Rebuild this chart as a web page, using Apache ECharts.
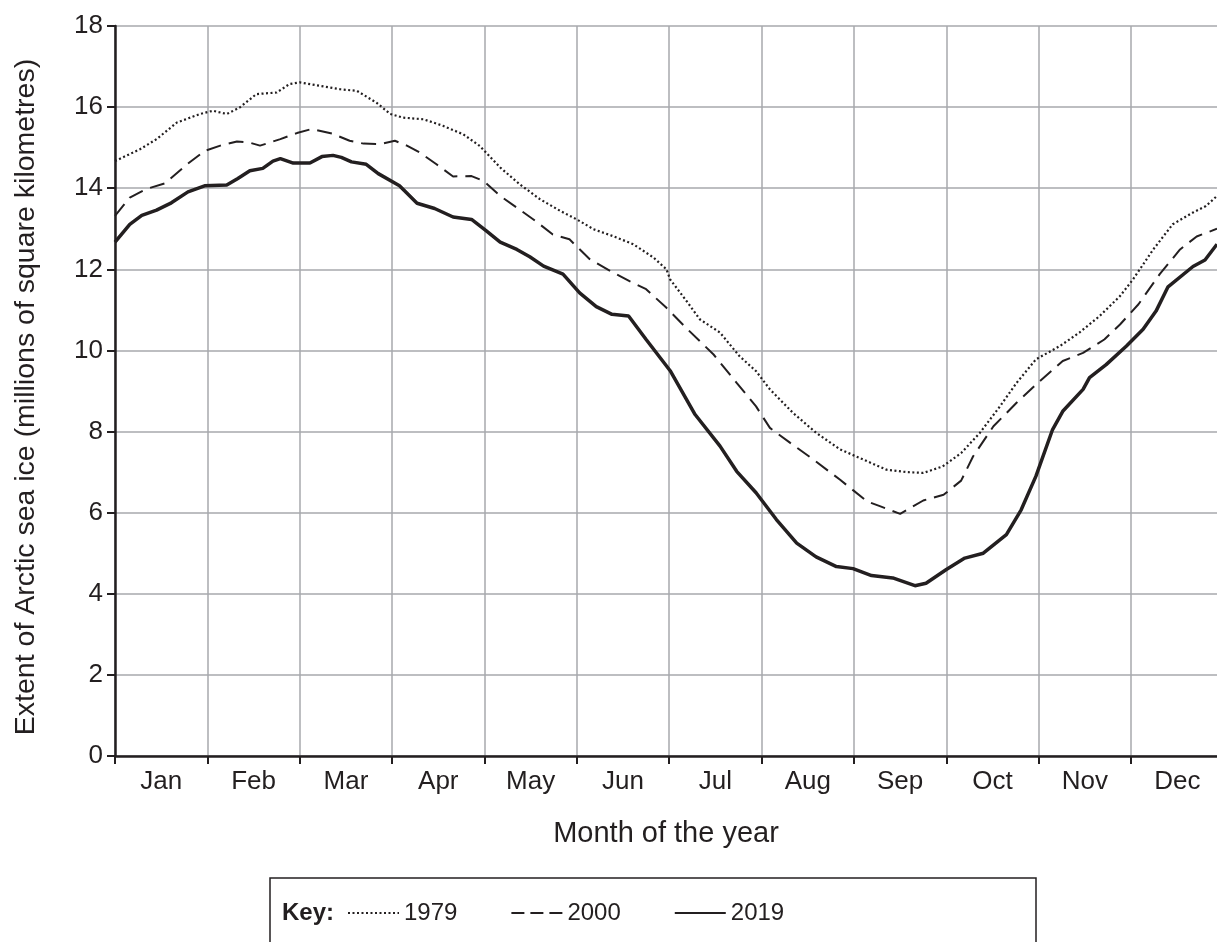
<!DOCTYPE html>
<html>
<head>
<meta charset="utf-8">
<title>Arctic sea ice extent</title>
<script src="https://cdn.jsdelivr.net/npm/echarts@6/dist/echarts.min.js"></script>
<style>
  html, body { margin: 0; padding: 0; background: #fff; }
  #main { width: 1217px; height: 942px; }
</style>
</head>
<body>
<div id="main"></div>
<script>
// month names, ticks at month boundaries, labels in the middle
var months = ['Jan', 'Feb', 'Mar', 'Apr', 'May', 'Jun', 'Jul', 'Aug', 'Sep', 'Oct', 'Nov', 'Dec'];
var yTicks = [0, 2, 4, 6, 8, 10, 12, 14, 16, 18];

// x = position in months (0 = 1 Jan), y = millions of km²
var x1979 = [0, 0.27, 0.45, 0.67, 0.92, 1.06, 1.21, 1.35, 1.53, 1.75, 1.89, 2.0, 2.18, 2.44, 2.62, 2.83, 2.98, 3.12, 3.34, 3.55, 3.77, 3.95, 4.17, 4.38, 4.6, 4.82, 5.0, 5.18, 5.39, 5.61, 5.83, 5.97, 6.01, 6.2, 6.33, 6.55, 6.76, 6.94, 7.09, 7.34, 7.59, 7.85, 8.06, 8.35, 8.57, 8.75, 8.96, 9.16, 9.36, 9.58, 9.76, 9.97, 10.23, 10.44, 10.66, 10.88, 11.02, 11.24, 11.45, 11.67, 11.81, 11.93];
var y1979 = [14.67, 14.96, 15.21, 15.62, 15.83, 15.91, 15.83, 15.99, 16.32, 16.36, 16.57, 16.61, 16.54, 16.44, 16.40, 16.11, 15.83, 15.74, 15.70, 15.54, 15.33, 15.04, 14.51, 14.10, 13.73, 13.44, 13.23, 12.99, 12.82, 12.62, 12.29, 12.0, 11.75, 11.18, 10.77, 10.44, 9.86, 9.49, 9.04, 8.46, 7.97, 7.56, 7.35, 7.06, 7.0, 6.98, 7.14, 7.47, 7.96, 8.62, 9.20, 9.78, 10.11, 10.44, 10.85, 11.34, 11.75, 12.49, 13.11, 13.40, 13.56, 13.81];

var x2000 = [0, 0.16, 0.34, 0.54, 0.78, 0.97, 1.14, 1.32, 1.45, 1.57, 1.79, 1.97, 2.13, 2.35, 2.54, 2.69, 2.87, 3.03, 3.16, 3.3, 3.48, 3.66, 3.86, 3.99, 4.17, 4.35, 4.53, 4.74, 4.92, 5.14, 5.36, 5.57, 5.75, 5.97, 6.19, 6.48, 6.73, 6.94, 7.09, 7.31, 7.56, 7.85, 8.14, 8.28, 8.5, 8.75, 8.97, 9.16, 9.29, 9.51, 9.76, 10.01, 10.26, 10.48, 10.71, 10.88, 11.08, 11.31, 11.53, 11.71, 11.93];
var y2000 = [13.32, 13.77, 13.98, 14.12, 14.59, 14.92, 15.05, 15.15, 15.13, 15.05, 15.21, 15.36, 15.46, 15.35, 15.17, 15.10, 15.09, 15.17, 15.05, 14.88, 14.59, 14.29, 14.3, 14.18, 13.81, 13.52, 13.23, 12.86, 12.74, 12.25, 11.96, 11.71, 11.51, 11.05, 10.54, 9.90, 9.2, 8.62, 8.09, 7.72, 7.31, 6.81, 6.28, 6.16, 5.97, 6.3, 6.44, 6.79, 7.39, 8.13, 8.71, 9.24, 9.74, 9.94, 10.27, 10.64, 11.14, 11.88, 12.49, 12.81, 13.0];

var x2019 = [0, 0.16, 0.29, 0.45, 0.61, 0.79, 0.97, 1.21, 1.33, 1.46, 1.6, 1.71, 1.79, 1.93, 2.11, 2.24, 2.36, 2.45, 2.56, 2.72, 2.85, 3.08, 3.27, 3.46, 3.66, 3.86, 4.02, 4.17, 4.35, 4.49, 4.64, 4.85, 5.03, 5.21, 5.38, 5.56, 5.75, 6.01, 6.28, 6.55, 6.73, 6.94, 7.16, 7.38, 7.59, 7.81, 7.99, 8.19, 8.42, 8.66, 8.78, 9.0, 9.2, 9.4, 9.65, 9.81, 9.97, 10.15, 10.26, 10.48, 10.55, 10.73, 10.95, 11.13, 11.27, 11.4, 11.67, 11.8, 11.93];
var y2019 = [12.67, 13.11, 13.33, 13.46, 13.64, 13.91, 14.06, 14.08, 14.24, 14.43, 14.49, 14.67, 14.73, 14.62, 14.62, 14.78, 14.81, 14.76, 14.65, 14.59, 14.36, 14.06, 13.63, 13.50, 13.29, 13.23, 12.95, 12.67, 12.49, 12.31, 12.08, 11.88, 11.42, 11.08, 10.89, 10.85, 10.27, 9.5, 8.42, 7.64, 7.02, 6.49, 5.83, 5.25, 4.91, 4.67, 4.62, 4.45, 4.39, 4.20, 4.26, 4.60, 4.88, 5.00, 5.46, 6.07, 6.90, 8.05, 8.50, 9.04, 9.33, 9.65, 10.11, 10.52, 10.97, 11.57, 12.07, 12.23, 12.62];

function pairs(xs, ys) {
    return xs.map(function (x, i) { return [x, ys[i]]; });
}

var ink = '#231f20';
var grey = '#a7a9ac';
var font = 'Arial, "Liberation Sans", sans-serif';

var myChart = echarts.init(document.getElementById('main'), null, { renderer: 'canvas' });

var option = {
    backgroundColor: '#fff',
    animation: false,
    textStyle: { fontFamily: font, color: ink },
    grid: { left: 115, right: 0, top: 26, bottom: 186, containLabel: false },
    xAxis: {
        type: 'value',
        min: 0,
        max: 11.93,
        interval: 1,
        name: 'Month of the year',
        nameLocation: 'middle',
        nameGap: 63,
        nameTextStyle: { fontSize: 29, color: ink, fontFamily: font },
        axisLine: { show: true, lineStyle: { color: ink, width: 2.5 } },
        axisTick: {
            show: true, inside: false, length: 8,
            lineStyle: { color: ink, width: 2 },
            customValues: [0, 1, 2, 3, 4, 5, 6, 7, 8, 9, 10, 11]
        },
        axisLabel: {
            show: true, margin: 13, fontSize: 26, color: ink, fontFamily: font,
            customValues: months.map(function (m, i) { return i + 0.5; }),
            formatter: function (v) { return months[Math.floor(v)]; }
        },
        splitLine: { show: true, lineStyle: { color: grey, width: 1.5 } }
    },
    yAxis: {
        type: 'value',
        min: yTicks[0],
        max: yTicks[yTicks.length - 1],
        interval: 2,
        name: 'Extent of Arctic sea ice (millions of square kilometres)',
        nameLocation: 'middle',
        nameGap: 74,
        nameTextStyle: { fontSize: 28.5, color: ink, fontFamily: font, padding: [0, 12, 0, 0] },
        axisLine: { show: true, lineStyle: { color: ink, width: 2.5 } },
        axisTick: { show: true, inside: false, length: 8, lineStyle: { color: ink, width: 2 } },
        axisLabel: { margin: 12, fontSize: 26, color: ink, fontFamily: font },
        splitLine: { show: true, lineStyle: { color: grey, width: 1.5 } }
    },
    legend: {
        show: true,
        data: [
            { name: '1979' },
            { name: '2000', lineStyle: { type: [13, 6] } },
            { name: '2019' }
        ],
        left: 347,
        top: 901,
        padding: 0,
        itemWidth: 51,
        itemHeight: 26,
        itemGap: 53,
        itemStyle: { opacity: 0 },
        textStyle: { fontSize: 24, color: ink, fontFamily: font },
        inactiveColor: ink
    },
    graphic: [
        {
            type: 'rect',
            shape: { x: 270, y: 878, width: 766, height: 120 },
            style: { fill: 'none', stroke: ink, lineWidth: 1.5 },
            silent: true
        },
        {
            type: 'text',
            left: 282,
            top: 901,
            style: { text: 'Key:', font: 'bold 24px ' + font, fill: ink }
        }
    ],
    series: [
        {
            name: '1979', type: 'line', showSymbol: false, symbol: 'none', smooth: false,
            data: pairs(x1979, y1979),
            lineStyle: { color: ink, width: 2.2, type: [2, 2.5] },
            itemStyle: { color: ink }
        },
        {
            name: '2000', type: 'line', showSymbol: false, symbol: 'none', smooth: false,
            data: pairs(x2000, y2000),
            lineStyle: { color: ink, width: 2, type: [15, 8] },
            itemStyle: { color: ink }
        },
        {
            name: '2019', type: 'line', showSymbol: false, symbol: 'none', smooth: false,
            data: pairs(x2019, y2019),
            lineStyle: { color: ink, width: 3.5, type: 'solid' },
            itemStyle: { color: ink }
        }
    ]
};

myChart.setOption(option);
</script>
</body>
</html>
